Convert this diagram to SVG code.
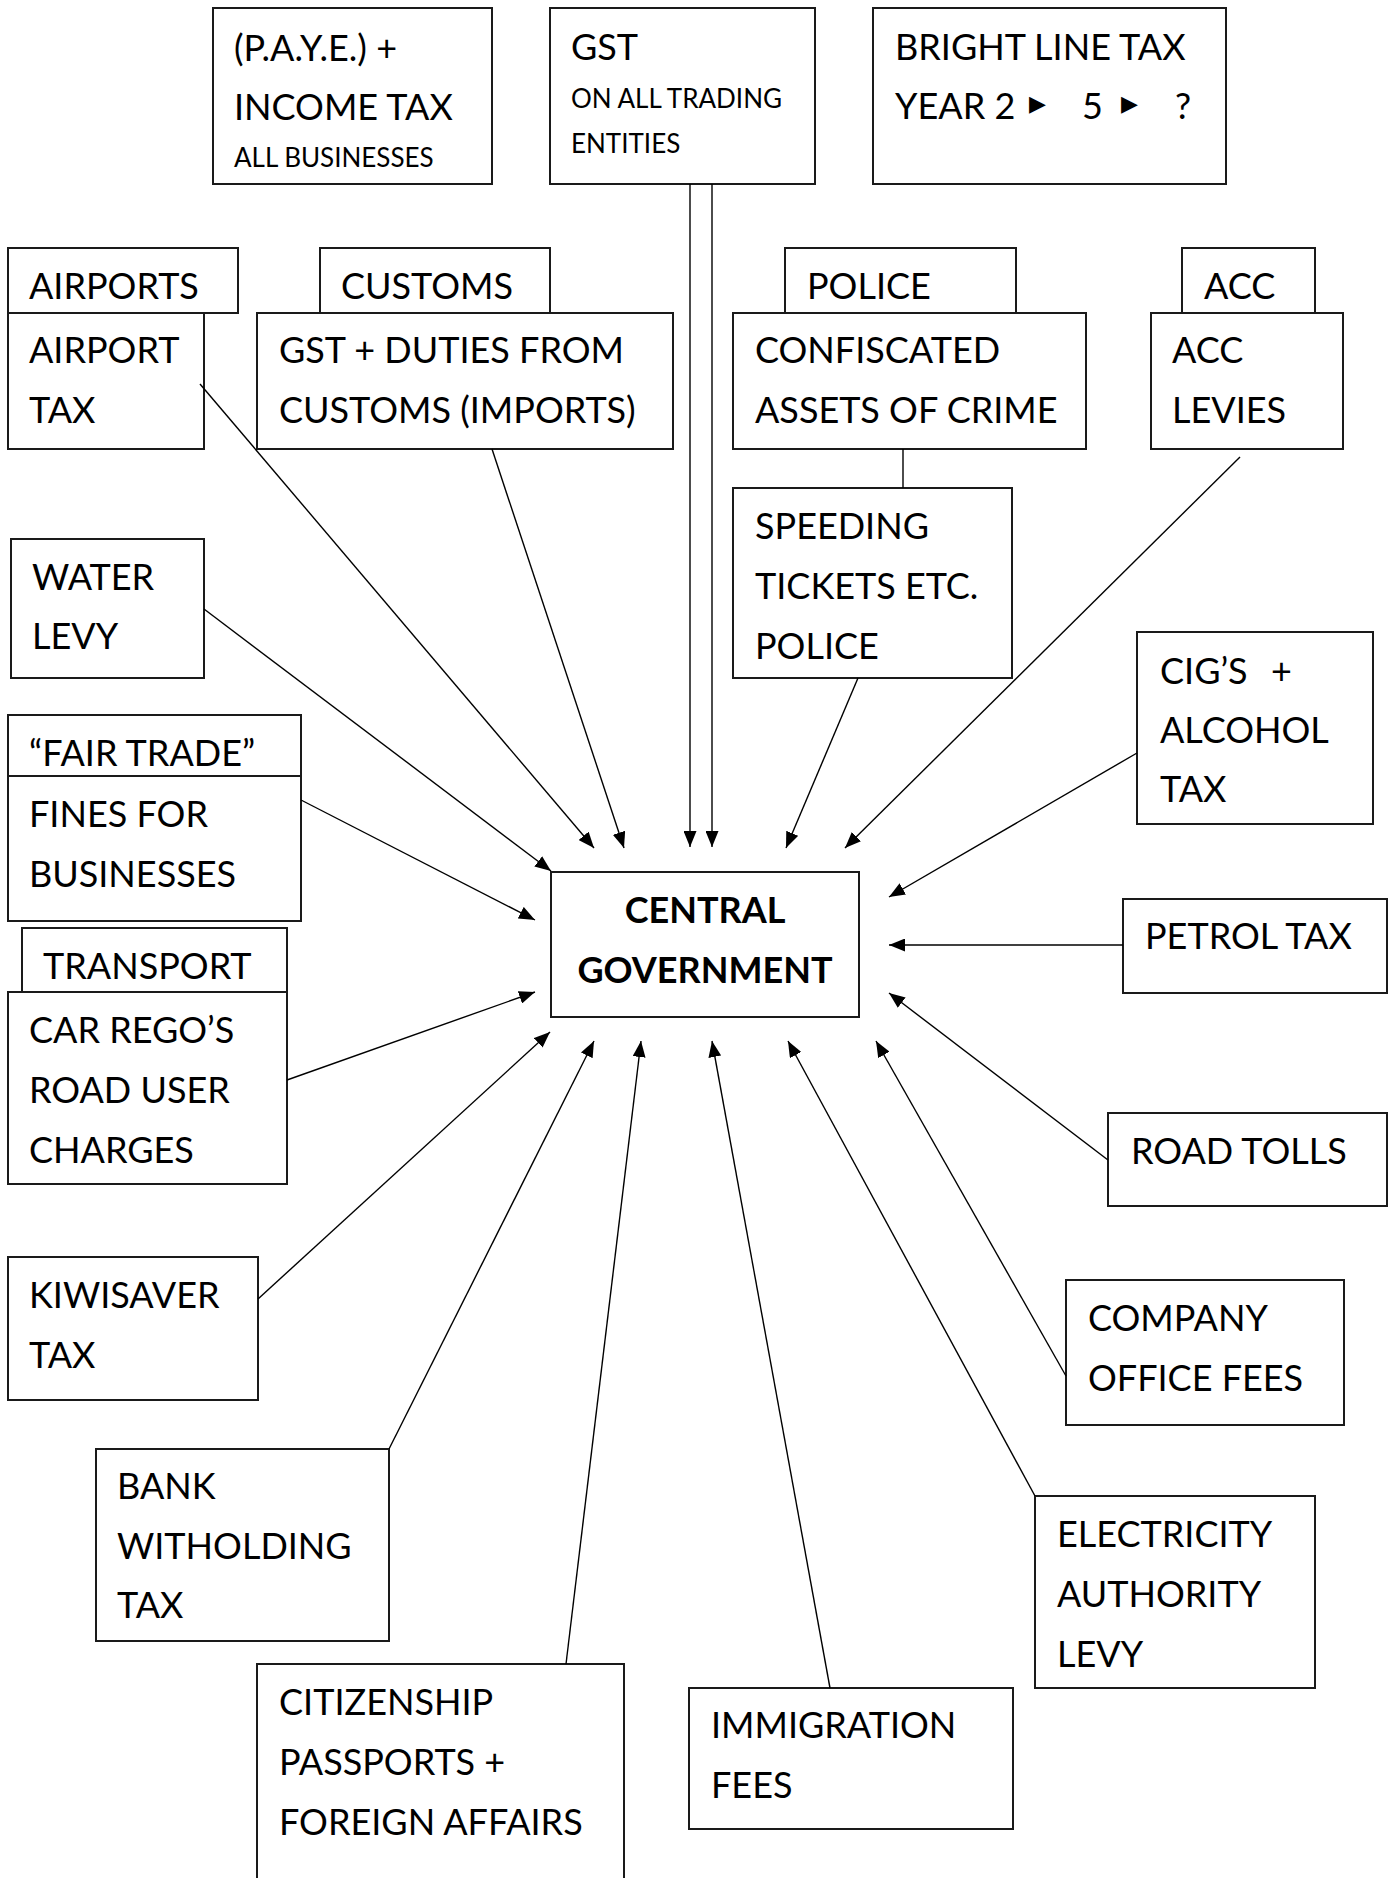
<svg xmlns="http://www.w3.org/2000/svg" width="1399" height="1878" viewBox="0 0 1399 1878">
<defs>
<style>
.b{fill:#fff;stroke:#1a1a1a;stroke-width:2}
.t{font-family:Lato,"Open Sans","Liberation Sans",sans-serif;font-size:36px;fill:#000}
.s{font-size:26px}
.bold{font-weight:bold;text-anchor:middle}
.c line{stroke:#000;stroke-width:1.4}
.a{marker-end:url(#ah)}
.sym{font-family:"DejaVu Sans",sans-serif;font-size:22px}
</style>
<marker id="ah" markerUnits="userSpaceOnUse" markerWidth="16" markerHeight="13" refX="16" refY="6.5" orient="auto" viewBox="0 0 16 13">
<path d="M0,0 L16,6.5 L0,13 Z" fill="#000"/>
</marker>
</defs>
<rect width="1399" height="1878" fill="#fff"/>

<g id="n-paye">
<rect class="b" x="213" y="8" width="279" height="176"/>
<text class="t" x="234" y="61">(P.A.Y.E.) +</text>
<text class="t" x="234" y="120">INCOME TAX</text>
<text class="t s" x="234" y="167">ALL BUSINESSES</text>
</g>
<g id="n-gst">
<rect class="b" x="550" y="8" width="265" height="176"/>
<text class="t" x="571" y="60">GST</text>
<text class="t s" x="571" y="108">ON ALL TRADING</text>
<text class="t s" x="571" y="153">ENTITIES</text>
</g>
<g id="n-bright">
<rect class="b" x="873" y="8" width="353" height="176"/>
<text class="t" x="895" y="60">BRIGHT LINE TAX</text>
<text class="t" y="119"><tspan x="895">YEAR 2</tspan><tspan class="sym" x="1029" y="111">▶</tspan><tspan x="1082" y="119">5</tspan><tspan class="sym" x="1121" y="111">▶</tspan><tspan x="1175" y="119">?</tspan></text>
</g>

<g id="n-airports">
<rect class="b" x="8" y="248" width="230" height="65"/>
<rect class="b" x="8" y="313" width="196" height="136"/>
<text class="t" x="29" y="299">AIRPORTS</text>
<text class="t" x="29" y="363">AIRPORT</text>
<text class="t" x="29" y="423">TAX</text>
</g>
<g id="n-customs">
<rect class="b" x="320" y="248" width="230" height="65"/>
<rect class="b" x="257" y="313" width="416" height="136"/>
<text class="t" x="341" y="299">CUSTOMS</text>
<text class="t" x="279" y="363">GST + DUTIES FROM</text>
<text class="t" x="279" y="423">CUSTOMS (IMPORTS)</text>
</g>
<g id="n-police">
<rect class="b" x="785" y="248" width="231" height="65"/>
<rect class="b" x="733" y="313" width="353" height="136"/>
<text class="t" x="807" y="299">POLICE</text>
<text class="t" x="755" y="363">CONFISCATED</text>
<text class="t" x="755" y="423">ASSETS OF CRIME</text>
</g>
<g id="n-acc">
<rect class="b" x="1182" y="248" width="133" height="65"/>
<rect class="b" x="1151" y="313" width="192" height="136"/>
<text class="t" x="1204" y="299">ACC</text>
<text class="t" x="1172" y="363">ACC</text>
<text class="t" x="1172" y="423">LEVIES</text>
</g>
<g id="n-speeding">
<rect class="b" x="733" y="488" width="279" height="190"/>
<text class="t" x="755" y="539">SPEEDING</text>
<text class="t" x="755" y="599">TICKETS ETC.</text>
<text class="t" x="755" y="659">POLICE</text>
</g>
<g id="n-water">
<rect class="b" x="11" y="539" width="193" height="139"/>
<text class="t" x="32" y="590">WATER</text>
<text class="t" x="32" y="649">LEVY</text>
</g>
<g id="n-fairtrade">
<rect class="b" x="8" y="715" width="293" height="61"/>
<rect class="b" x="8" y="776" width="293" height="145"/>
<text class="t" x="29" y="766">“FAIR TRADE”</text>
<text class="t" x="29" y="827">FINES FOR</text>
<text class="t" x="29" y="887">BUSINESSES</text>
</g>
<g id="n-transport">
<rect class="b" x="22" y="928" width="265" height="64"/>
<rect class="b" x="8" y="992" width="279" height="192"/>
<text class="t" x="43" y="979">TRANSPORT</text>
<text class="t" x="29" y="1043">CAR REGO’S</text>
<text class="t" x="29" y="1103">ROAD USER</text>
<text class="t" x="29" y="1163">CHARGES</text>
</g>
<g id="n-central">
<rect class="b" x="551" y="872" width="308" height="145"/>
<text class="t bold" x="705" y="923">CENTRAL</text>
<text class="t bold" x="705" y="983">GOVERNMENT</text>
</g>
<g id="n-cig">
<rect class="b" x="1137" y="632" width="236" height="192"/>
<text class="t" x="1160" y="684">CIG’S<tspan x="1271">+</tspan></text>
<text class="t" x="1160" y="743">ALCOHOL</text>
<text class="t" x="1160" y="802">TAX</text>
</g>
<g id="n-petrol">
<rect class="b" x="1123" y="899" width="264" height="94"/>
<text class="t" x="1145" y="949">PETROL TAX</text>
</g>
<g id="n-roadtolls">
<rect class="b" x="1108" y="1113" width="279" height="93"/>
<text class="t" x="1131" y="1164">ROAD TOLLS</text>
</g>
<g id="n-kiwisaver">
<rect class="b" x="8" y="1257" width="250" height="143"/>
<text class="t" x="29" y="1308">KIWISAVER</text>
<text class="t" x="29" y="1368">TAX</text>
</g>
<g id="n-company">
<rect class="b" x="1066" y="1280" width="278" height="145"/>
<text class="t" x="1088" y="1331">COMPANY</text>
<text class="t" x="1088" y="1391">OFFICE FEES</text>
</g>
<g id="n-bank">
<rect class="b" x="96" y="1449" width="293" height="192"/>
<text class="t" x="117" y="1499">BANK</text>
<text class="t" x="117" y="1559">WITHOLDING</text>
<text class="t" x="117" y="1618">TAX</text>
</g>
<g id="n-electricity">
<rect class="b" x="1035" y="1496" width="280" height="192"/>
<text class="t" x="1057" y="1547">ELECTRICITY</text>
<text class="t" x="1057" y="1607">AUTHORITY</text>
<text class="t" x="1057" y="1667">LEVY</text>
</g>
<g id="n-citizenship">
<rect class="b" x="257" y="1664" width="367" height="260"/>
<text class="t" x="279" y="1715">CITIZENSHIP</text>
<text class="t" x="279" y="1775">PASSPORTS +</text>
<text class="t" x="279" y="1835">FOREIGN AFFAIRS</text>
</g>
<g id="n-immigration">
<rect class="b" x="689" y="1688" width="324" height="141"/>
<text class="t" x="711" y="1738">IMMIGRATION</text>
<text class="t" x="711" y="1798">FEES</text>
</g>

<g id="connectors" class="c">
<line x1="903" y1="449" x2="903" y2="488"/>
<line class="a" x1="200" y1="384" x2="594" y2="848"/>
<line class="a" x1="492" y1="449" x2="624" y2="848"/>
<line class="a" x1="690" y1="184" x2="690" y2="847"/>
<line class="a" x1="712" y1="184" x2="712" y2="847"/>
<line class="a" x1="858" y1="678" x2="786" y2="848"/>
<line class="a" x1="1240" y1="457" x2="845" y2="848"/>
<line class="a" x1="204" y1="609" x2="551" y2="871"/>
<line class="a" x1="301" y1="800" x2="535" y2="920"/>
<line class="a" x1="287" y1="1080" x2="535" y2="992"/>
<line class="a" x1="1137" y1="753" x2="889" y2="897"/>
<line class="a" x1="1123" y1="945" x2="889" y2="945"/>
<line class="a" x1="1108" y1="1160" x2="889" y2="993"/>
<line class="a" x1="258" y1="1299" x2="550" y2="1032"/>
<line class="a" x1="389" y1="1449" x2="594" y2="1041"/>
<line class="a" x1="566" y1="1664" x2="641" y2="1041"/>
<line class="a" x1="830" y1="1688" x2="712" y2="1041"/>
<line class="a" x1="1035" y1="1496" x2="788" y2="1041"/>
<line class="a" x1="1066" y1="1376" x2="876" y2="1041"/>
</g>
</svg>
